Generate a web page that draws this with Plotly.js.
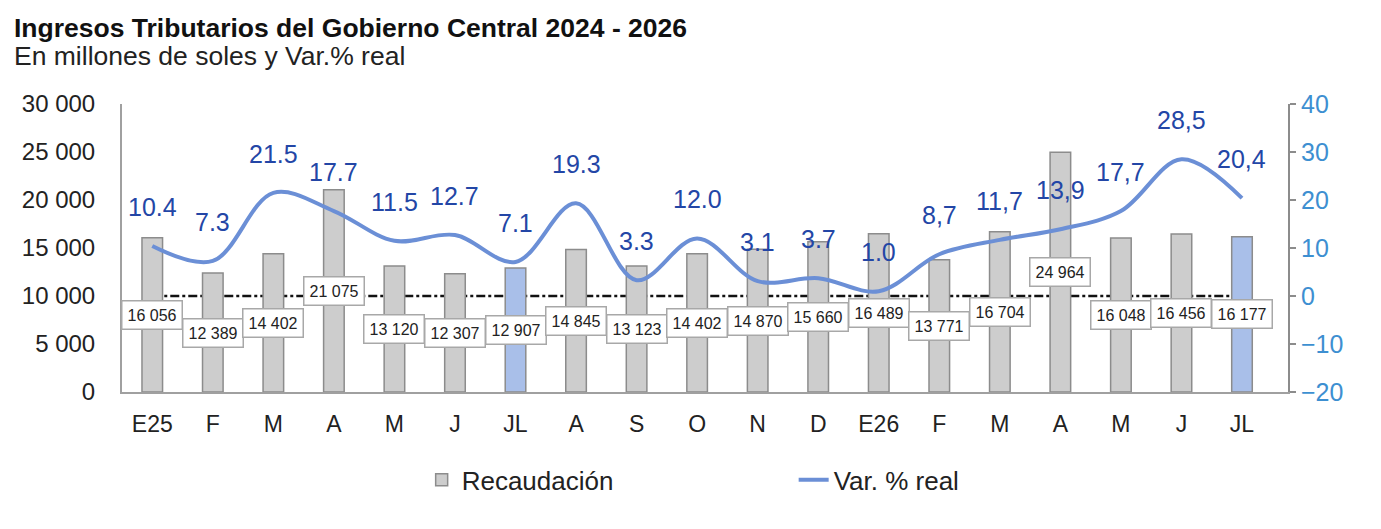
<!DOCTYPE html>
<html>
<head>
<meta charset="utf-8">
<script src="https://cdn.plot.ly/plotly-3.0.1.min.js"></script>
<style>
  html, body { margin: 0; padding: 0; background: #fff; }
  #chart { width: 1381px; height: 529px; }
</style>
</head>
<body>
<div id="chart"></div>
<script>
// months, Jan 2025 - Jul 2026
var months = ["E25", "F", "M", "A", "M", "J", "JL", "A", "S", "O", "N", "D", "E26", "F", "M", "A", "M", "J", "JL"];
var recaudacion = [16056, 12389, 14402, 21075, 13120, 12307, 12907, 14845, 13123, 14402, 14870, 15660, 16489, 13771, 16704, 24964, 16048, 16456, 16177];
var varReal = [10.4, 7.3, 21.5, 17.7, 11.5, 12.7, 7.1, 19.3, 3.3, 12.0, 3.1, 3.7, 1.0, 8.7, 11.7, 13.9, 17.7, 28.5, 20.4];
var varLabels = ["10.4", "7.3", "21.5", "17.7", "11.5", "12.7", "7.1", "19.3", "3.3", "12.0", "3.1", "3.7", "1.0", "8,7", "11,7", "13,9", "17,7", "28,5", "20,4"];
var highlight = [6, 18]; // julio bars in blue

var xs = months.map(function (m, i) { return i; });
var barColors = xs.map(function (i) { return highlight.indexOf(i) >= 0 ? "#a9bfe9" : "#cdcdcd"; });

function fmt(n) {
  return String(n).replace(/\B(?=(\d{3})+(?!\d))/g, " ");
}

var bars = {
  x: xs,
  y: recaudacion,
  type: "bar",
  name: "Recaudación",
  width: 0.34,
  marker: { color: barColors, line: { color: "#8c8c8c", width: 1.5 } },
  hoverinfo: "y"
};

var line = {
  x: xs,
  y: varReal,
  yaxis: "y2",
  type: "scatter",
  mode: "lines",
  name: "Var. % real",
  line: { color: "#6b8fd6", width: 4, shape: "spline", smoothing: 1 }
};

var annotations = [];
// bar value boxes, at middle of each bar
recaudacion.forEach(function (v, i) {
  annotations.push({
    x: i, y: v / 2, xref: "x", yref: "y",
    text: fmt(v), showarrow: false,
    font: { family: "Liberation Sans, Arial", size: 16, color: "#222" },
    bgcolor: "#ffffff", bordercolor: "#a8a8a8", borderwidth: 1.5, borderpad: 5
  });
});
// % labels above the line
varReal.forEach(function (v, i) {
  annotations.push({
    x: i, y: v, xref: "x", yref: "y2",
    text: varLabels[i], showarrow: false, yshift: 39,
    font: { family: "Liberation Sans, Arial", size: 25, color: "#2346a6" }
  });
});
// title + subtitle
annotations.push({
  xref: "paper", yref: "paper", x: -0.0943, y: 1.264, xanchor: "left", yanchor: "middle",
  text: "<b>Ingresos Tributarios del Gobierno Central 2024 - 2026</b>", showarrow: false,
  font: { family: "Liberation Sans, Arial", size: 26.5, color: "#111" }
});
annotations.push({
  xref: "paper", yref: "paper", x: -0.0943, y: 1.167, xanchor: "left", yanchor: "middle",
  text: "En millones de soles y Var.% real", showarrow: false,
  font: { family: "Liberation Sans, Arial", size: 26.5, color: "#222" }
});

var layout = {
  width: 1381,
  height: 529,
  margin: { l: 122, r: 93, t: 104, b: 137 },
  paper_bgcolor: "#fff",
  plot_bgcolor: "#fff",
  separators: ". ",
  font: { family: "Liberation Sans, Arial", color: "#222" },
  showlegend: true,
  legend: {
    orientation: "h", x: 0.257, xanchor: "left", y: -0.305, yanchor: "middle",
    entrywidth: 327, entrywidthmode: "pixels",
    font: { family: "Liberation Sans, Arial", size: 26, color: "#222" },
    traceorder: "normal"
  },
  xaxis: {
    range: [-0.5, 18.76],
    tickvals: xs, ticktext: months,
    showline: true, linecolor: "#a0a0a0", linewidth: 2,
    ticks: "", showgrid: false, zeroline: false,
    tickfont: { size: 23, color: "#222" }, ticklabelstandoff: 10
  },
  yaxis: {
    range: [0, 30000], dtick: 5000, tickformat: ",d",
    showline: true, linecolor: "#a0a0a0", linewidth: 2,
    ticks: "", showgrid: false, zeroline: false,
    tickfont: { size: 24, color: "#222" }, ticklabelstandoff: 20
  },
  yaxis2: {
    overlaying: "y", side: "right",
    range: [-20, 40], dtick: 10,
    showline: true, linecolor: "#8c8c8c", linewidth: 2,
    ticks: "outside", ticklen: 6, tickcolor: "#8c8c8c", tickwidth: 2,
    showgrid: false, zeroline: false,
    tickfont: { size: 25, color: "#3d8fd1" }
  },
  shapes: [{
    type: "line", xref: "x", yref: "y2",
    x0: 0, x1: 18, y0: 0, y1: 0,
    line: { color: "#111", width: 2.5, dash: "dashdot" },
    layer: "below"
  }],
  annotations: annotations,
  bargap: 0.6
};

Plotly.newPlot("chart", [bars, line], layout, { displayModeBar: false });
</script>
</body>
</html>
